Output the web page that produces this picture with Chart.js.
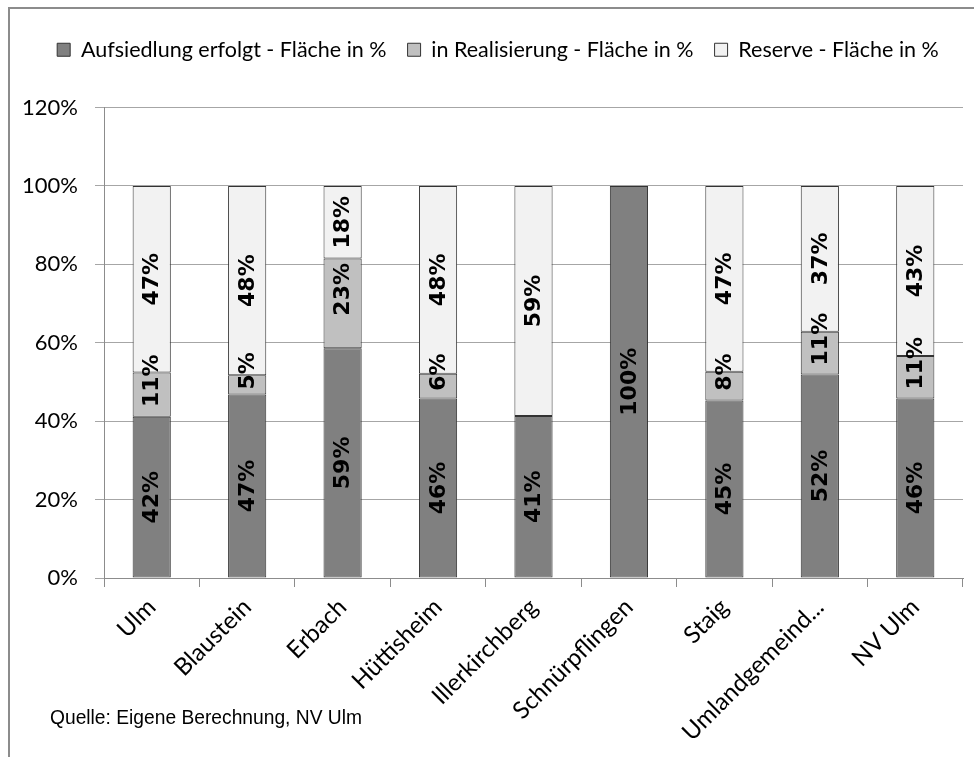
<!DOCTYPE html>
<html>
<head>
<meta charset="utf-8">
<script src="https://cdn.jsdelivr.net/npm/chart.js@4/dist/chart.umd.min.js"></script>
<style>
  html, body { margin: 0; padding: 0; background: #fff; }
  #wrap { position: relative; width: 974px; height: 757px; overflow: hidden; }
  #frame {
    position: absolute; left: 8px; top: 7px; right: 0; bottom: 0;
    border-left: 2px solid #8c8c8c; border-top: 2px solid #8c8c8c;
    pointer-events: none;
  }
</style>
</head>
<body>
<div id="wrap">
  <canvas id="chart" width="974" height="757"></canvas>
  <div id="frame"></div>
</div>
<script>
(function () {
  'use strict';

  // Gemeinden / Kategorien
  var towns = ['Ulm', 'Blaustein', 'Erbach', 'Hüttisheim', 'Illerkirchberg',
    'Schnürpflingen', 'Staig', 'Umlandgemeind...', 'NV Ulm'];

  // Segmenthöhen in %
  var builtShare = [41.1, 46.8, 58.6, 45.8, 41.3, 100, 45.3, 51.9, 45.8];
  var inProgressShare = [11.3, 4.9, 22.9, 6.3, null, null, 7.3, 10.9, 10.8];
  var reserveShare = [47.6, 48.3, 18.5, 47.9, 58.7, null, 47.4, 37.2, 43.4];

  // Beschriftungen wie im Original
  var builtLabels = ['42%', '47%', '59%', '46%', '41%', '100%', '45%', '52%', '46%'];
  var inProgressLabels = ['11%', '5%', '23%', '6%', '', '', '8%', '11%', '11%'];
  var reserveLabels = ['47%', '48%', '18%', '48%', '59%', '', '47%', '37%', '43%'];

  var yTicks = [0, 20, 40, 60, 80, 100, 120];

  var axisFont = 'Lato';
  var gridColor = '#a6a6a6';
  var axisColor = '#8c8c8c';

  // Balkenbeschriftung, um 90° gedreht
  var segmentLabels = {
    id: 'segmentLabels',
    afterDatasetsDraw: function (chart) {
      var ctx = chart.ctx;
      ctx.save();
      ctx.font = 'bold 22px "DejaVu Sans"';
      ctx.fillStyle = '#000';
      ctx.textAlign = 'center';
      ctx.textBaseline = 'middle';
      chart.data.datasets.forEach(function (ds, di) {
        var meta = chart.getDatasetMeta(di);
        meta.data.forEach(function (bar, i) {
          var txt = ds.segmentText[i];
          if (!txt || ds.data[i] == null) return;
          var cy = (bar.y + bar.base) / 2 + (ds.labelShift || 0);
          ctx.save();
          ctx.translate(bar.x, cy);
          ctx.rotate(-Math.PI / 2);
          ctx.fillText(txt, 0, 1);
          ctx.restore();
        });
      });
      ctx.restore();
    }
  };

  // Legende: mehr Abstand nach unten, etwas nach rechts versetzt
  var legendTweak = {
    id: 'legendTweak',
    afterInit: function (chart) {
      var legend = chart.legend;
      if (!legend) return;
      var fit = legend.fit;
      legend.fit = function () {
        fit.apply(this, arguments);
        this.height += 37;
      };
      var draw = legend.draw;
      legend.draw = function () {
        var ctx = this.ctx;
        ctx.save();
        ctx.translate(12, 0);
        draw.apply(this, arguments);
        ctx.restore();
      };
    }
  };

  var sourceNote = {
    id: 'sourceNote',
    afterDraw: function (chart) {
      var ctx = chart.ctx;
      ctx.save();
      ctx.font = '20px "Liberation Sans"';
      ctx.fillStyle = '#000';
      ctx.textAlign = 'left';
      ctx.textBaseline = 'alphabetic';
      ctx.fillText('Quelle: Eigene Berechnung, NV Ulm', 50, 724, 312);
      ctx.restore();
    }
  };

  function bar(label, data, text, fill, shift) {
    return {
      label: label,
      data: data,
      segmentText: text,
      labelShift: shift,
      backgroundColor: fill,
      borderColor: '#333',
      borderWidth: 1,
      borderSkipped: false,
      barPercentage: 0.4,
      categoryPercentage: 1.0
    };
  }

  new Chart(document.getElementById('chart').getContext('2d'), {
    type: 'bar',
    data: {
      labels: towns,
      datasets: [
        bar('Aufsiedlung erfolgt - Fläche in %', builtShare, builtLabels, '#808080', 0),
        bar('in Realisierung - Fläche in %', inProgressShare, inProgressLabels, '#c0c0c0', -14),
        bar('Reserve - Fläche in %', reserveShare, reserveLabels, '#f2f2f2', 0)
      ]
    },
    options: {
      responsive: false,
      animation: false,
      layout: { padding: { left: 9, right: 11, top: 18, bottom: 0 } },
      plugins: {
        tooltip: { enabled: false },
        legend: {
          display: true,
          position: 'top',
          labels: {
            boxWidth: 13,
            boxHeight: 13,
            padding: 21,
            color: '#000',
            font: { family: axisFont, size: 21.5 }
          }
        }
      },
      scales: {
        x: {
          stacked: true,
          grid: {
            display: true,
            drawOnChartArea: false,
            drawTicks: true,
            tickLength: 9,
            color: axisColor,
            offset: true
          },
          border: { display: true, color: axisColor, width: 1 },
          ticks: {
            color: '#000',
            font: { family: axisFont, size: 24 },
            maxRotation: 45,
            minRotation: 45,
            autoSkip: false,
            padding: 6
          },
          afterFit: function (scale) { scale.height = 179; }
        },
        y: {
          stacked: true,
          min: 0,
          max: 120,
          afterBuildTicks: function (scale) {
            scale.ticks = yTicks.map(function (v) { return { value: v }; });
          },
          grid: {
            color: gridColor,
            lineWidth: 1,
            drawTicks: true,
            tickLength: 9
          },
          border: { display: true, color: axisColor, width: 1 },
          ticks: {
            color: '#000',
            font: { family: axisFont, size: 22 },
            padding: 17,
            callback: function (v) { return v + '%'; }
          },
          afterFit: function (scale) { scale.width = 95; }
        }
      }
    },
    plugins: [segmentLabels, legendTweak, sourceNote]
  });
})();
</script>
</body>
</html>
